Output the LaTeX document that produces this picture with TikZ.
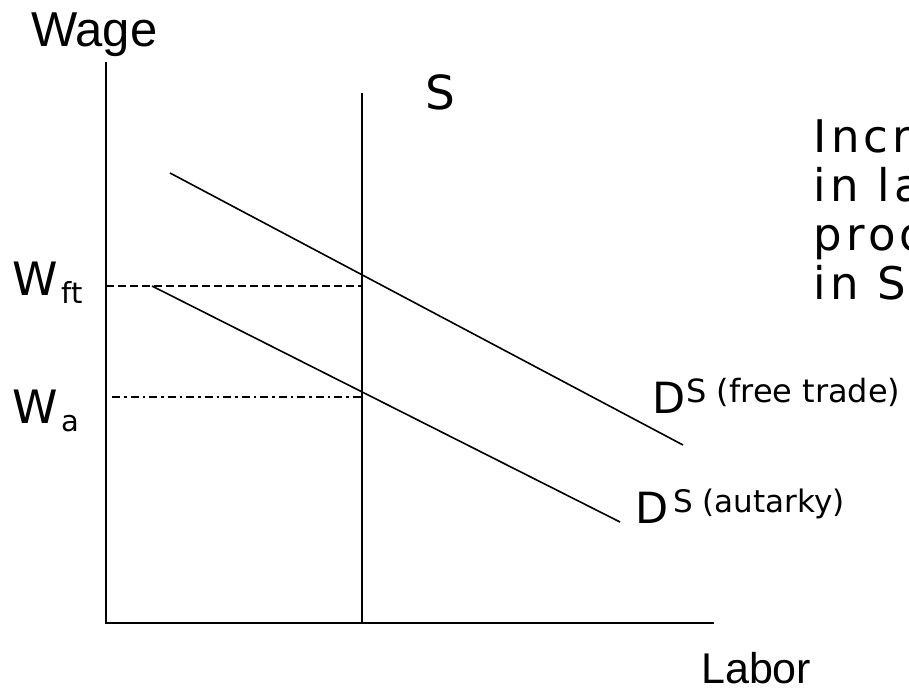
\documentclass[tikz,border=0pt]{standalone}
\usepackage{fontspec}
\setmainfont{DejaVu Sans}
\newfontfamily\arialf{Liberation Sans}
\newfontfamily\widef[LetterSpace=9.3]{DejaVu Sans}
\begin{document}
\begin{tikzpicture}[x=1pt,y=-1pt,
  axis/.style={line width=2pt},
  dem/.style={line width=1.6pt},
  dashline/.style={line width=1.8pt, dash pattern=on 8pt off 4pt},
  dotline/.style={line width=1.8pt, dash pattern=on 8pt off 4pt on 2.5pt off 4pt},
  lbl/.style={inner sep=0pt, anchor=base west}]
\useasboundingbox (0,0) rectangle (909,690);
\clip (0,0) rectangle (909,690);
\fill[white] (0,0) rectangle (909,690);
% coordinates
\coordinate (ytop) at (106,62);
\coordinate (O) at (106,623);
\coordinate (xend) at (714,623);
\coordinate (Stop) at (362,93);
\coordinate (Sbot) at (362,623);
\coordinate (Fa) at (170,173);
\coordinate (Fb) at (683,445);
\coordinate (Aa) at (152,286);
\coordinate (Ab) at (620,522);
\coordinate (Wft0) at (106,286);
\coordinate (Wft1) at (362,286);
\coordinate (Wa0) at (112,397);
\coordinate (Wa1) at (362,397);
% axes
\draw[axis] (ytop) -- (O) -- (xend);
\draw[axis] (Stop) -- (Sbot);
% demand curves
\draw[dem] (Fa) -- (Fb);
\draw[dem] (Aa) -- (Ab);
% wage lines
\draw[dashline] (Wft0) -- (Wft1);
\draw[dotline] (Wa0) -- (Wa1);
% labels
\node[lbl] (wage) at (31,47) {\arialf\fontsize{49}{49}\selectfont Wage};
\node[lbl] (labor) at (701,683) {\arialf\fontsize{43}{43}\selectfont Labor};
\node[lbl] (slbl) at (425,110) {\fontsize{47}{47}\selectfont S};
\node[lbl] (wft) at (12,295) {\fontsize{46}{46}\selectfont W\hspace{4pt}\raisebox{-8pt}{\fontsize{29}{29}\selectfont ft}};
\node[lbl] (wa) at (12,423) {\fontsize{46}{46}\selectfont W\hspace{4pt}\raisebox{-8pt}{\fontsize{29}{29}\selectfont a}};
\node[lbl] (dft) at (652,413) {\fontsize{43}{43}\selectfont D\hspace{1pt}\raisebox{11pt}{\fontsize{32}{32}\selectfont S (free trade)}};
\node[lbl] (dau) at (635,523) {\fontsize{43}{43}\selectfont D\hspace{5pt}\raisebox{11pt}{\fontsize{31}{31}\selectfont S (autarky)}};
\node[lbl] (t1) at (813.6,152) {\widef\fontsize{45}{45}\selectfont Increase};
\node[lbl] (t2) at (813.6,201) {\widef\fontsize{45}{45}\selectfont in labor};
\node[lbl] (t3) at (813.6,250) {\widef\fontsize{45}{45}\selectfont productivity};
\node[lbl] (t4) at (813.6,299) {\widef\fontsize{45}{45}\selectfont in South};
\end{tikzpicture}
\end{document}
